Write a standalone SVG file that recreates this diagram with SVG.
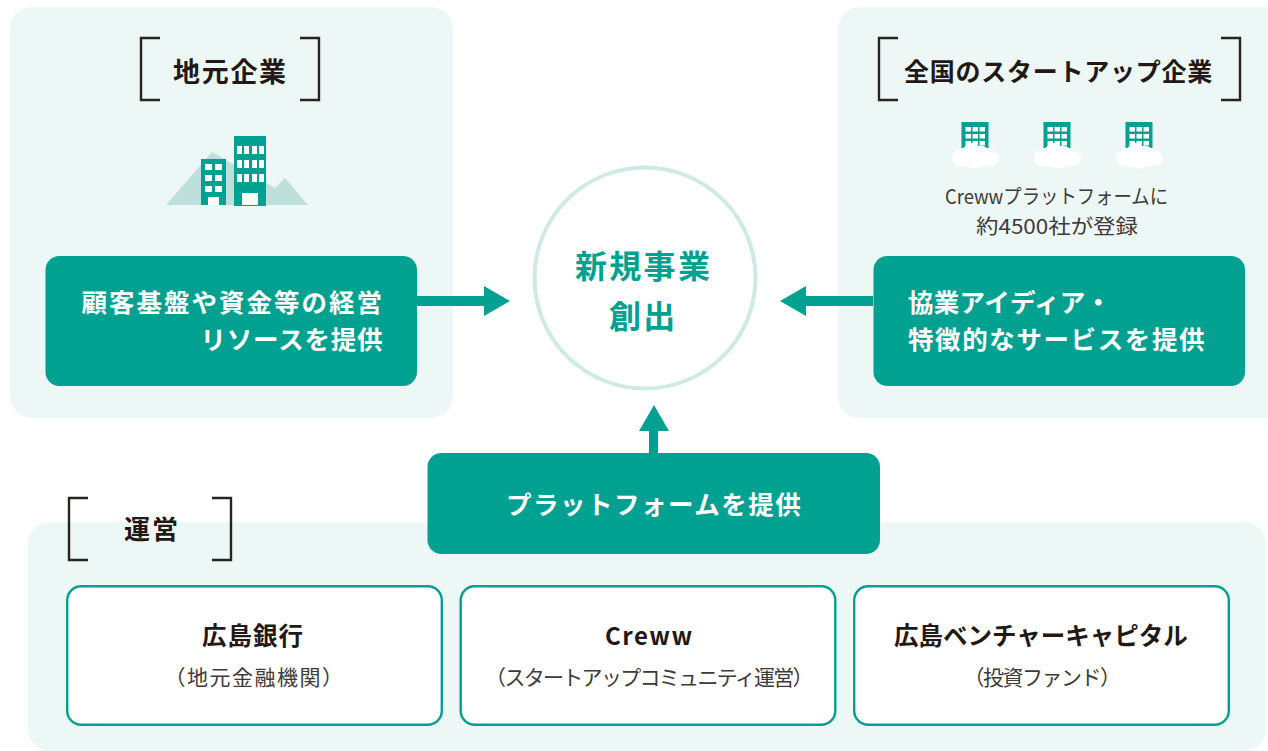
<svg xmlns="http://www.w3.org/2000/svg" width="1268" height="751" viewBox="0 0 1268 751">
<style>
.p{fill:#edf7f5}
.g{fill:#00a190}
.b{fill:none;stroke:#2b2220;stroke-width:2.4}
text{font-family:"Noto Sans CJK JP","Noto Sans",sans-serif}
.h{font-weight:700;font-size:27px;fill:#231815}
.w{font-weight:700;font-size:25.500px;fill:#fff}
.n{font-weight:700;font-size:24.500px;fill:#231815}
.s{font-size:21px;fill:#3e3a39}
.card{fill:#fff;stroke:#00a190;stroke-width:2.4}
.win{fill:#fff}
.cl{fill:#fff}
</style>
<defs>
<g id="tiny"><rect x="0" y="0" width="27" height="26" class="g"/>
<g class="win">
<rect x="4" y="5" width="5.500" height="4.500"/><rect x="11" y="5" width="5.500" height="4.500"/><rect x="18" y="5" width="5.500" height="4.500"/>
<rect x="4" y="12" width="5.500" height="4.500"/><rect x="11" y="12" width="5.500" height="4.500"/><rect x="18" y="12" width="5.500" height="4.500"/>
<rect x="4" y="19" width="5.500" height="4.500"/><rect x="11" y="19" width="5.500" height="4.500"/><rect x="18" y="19" width="5.500" height="4.500"/>
</g>
<g class="cl">
<circle cx="10" cy="29" r="8"/><circle cx="-1" cy="36" r="8.500"/><circle cx="14" cy="37" r="9.500"/><circle cx="30" cy="36.500" r="7.500"/><circle cx="5" cy="34" r="9"/><circle cx="19" cy="33" r="9.500"/><ellipse cx="14" cy="37" rx="19" ry="8.500"/>
</g>
</g>
</defs>
<rect width="1268" height="751" fill="#fff"/>
<g id="panel-local">
<rect x="10" y="7" width="443" height="411" rx="22" class="p"/>
<path class="b" d="M160 38H141V100H160M300 38H319V100H300"/>
<text x="173" y="82" class="h" letter-spacing="1.700">地元企業</text>
<path d="M166 205L212 152L275 188L285 178L308 205Z" fill="#bde0da"/>
<g id="icon-buildings">
<rect x="201" y="159" width="25" height="46" class="g"/>
<rect x="234" y="136" width="32" height="70" class="g"/>
<g class="win">
<rect x="205" y="164" width="7" height="6"/><rect x="215" y="164" width="7" height="6"/>
<rect x="205" y="175" width="7" height="6"/><rect x="215" y="175" width="7" height="6"/>
<rect x="205" y="186" width="7" height="6"/><rect x="215" y="186" width="7" height="6"/>
<rect x="208" y="197" width="11" height="8"/>
<rect x="237" y="146" width="5" height="8"/><rect x="244" y="146" width="5" height="8"/><rect x="252" y="146" width="5" height="8"/><rect x="259" y="146" width="5" height="8"/>
<rect x="237" y="160" width="5" height="8"/><rect x="244" y="160" width="5" height="8"/><rect x="252" y="160" width="5" height="8"/><rect x="259" y="160" width="5" height="8"/>
<rect x="237" y="174" width="5" height="8"/><rect x="244" y="174" width="5" height="8"/><rect x="252" y="174" width="5" height="8"/><rect x="259" y="174" width="5" height="8"/>
<rect x="242" y="193" width="16" height="12"/>
</g>
</g>
<rect x="45.500" y="256" width="371.500" height="130" rx="14" class="g"/>
<text x="81.500" y="312" class="w" letter-spacing="2">顧客基盤や資金等の経営</text>
<text x="200.500" y="349" class="w" letter-spacing="0.800">リソースを提供</text>
</g>
<g id="panel-startup">
<path d="M1268 7H860a22 22 0 0 0-22 22V396a22 22 0 0 0 22 22H1268Z" class="p"/>
<path class="b" d="M898 38H879V100H898M1221 38H1240V100H1221"/>
<text x="904" y="81" class="h" style="font-size:25px" letter-spacing="0.750">全国のスタートアップ企業</text>
<use href="#tiny" x="961.500" y="122"/>
<use href="#tiny" x="1043.500" y="122"/>
<use href="#tiny" x="1125.500" y="122"/>
<text x="945" y="204" class="s" style="font-size:20px" textLength="223" lengthAdjust="spacingAndGlyphs">Crewwプラットフォームに</text>
<text x="976" y="234" class="s" style="font-size:20px" textLength="162" lengthAdjust="spacingAndGlyphs">約4500社が登録</text>
<rect x="873.500" y="256" width="371.500" height="130" rx="14" class="g"/>
<text x="908" y="312" class="w" letter-spacing="0.300">協業アイディア・</text>
<text x="908" y="349" class="w" letter-spacing="1.600">特徴的なサービスを提供</text>
</g>
<g id="panel-operation">
<rect x="28" y="522" width="1238" height="229" rx="22" class="p"/>
<path class="b" d="M88 498H69V560H88M212 498H231V560H212"/>
<text x="124" y="539" class="h" style="font-size:26px" letter-spacing="2">運営</text>
</g>
<g id="center">
<circle cx="645" cy="278" r="110.500" fill="#fff" stroke="#cfe9e5" stroke-width="4"/>
<text x="575" y="278" font-size="32" font-weight="700" fill="#00a190" letter-spacing="2.300">新規事業</text>
<text x="609" y="328" font-size="32" font-weight="700" fill="#00a190" letter-spacing="2.300">創出</text>
</g>
<g id="connectors">
<path class="g" d="M417 296H484V286L510 301L484 316V306H417Z"/>
<path class="g" d="M873 296H806V286L780 301L806 316V306H873Z"/>
<path class="g" d="M649 453V431H639L654 405L669 431H658V453Z"/>
</g>
<g id="platform">
<rect x="427.500" y="453" width="452.500" height="101" rx="14" class="g"/>
<text x="506" y="514" class="w" letter-spacing="1.500">プラットフォームを提供</text>
</g>
<g id="card-bank">
<rect x="67.200" y="586.200" width="374.600" height="138.600" rx="14" class="card"/>
<text x="202" y="645" class="n" letter-spacing="1">広島銀行</text>
<text x="254.500" y="685" class="s" text-anchor="middle" letter-spacing="1.500">（地元金融機関）</text>
</g>
<g id="card-creww">
<rect x="460.700" y="586.200" width="374.600" height="138.600" rx="14" class="card"/>
<text x="605" y="645" class="n" style="font-size:24px" letter-spacing="1.500">Creww</text>
<text x="648.500" y="685" class="s" text-anchor="middle" letter-spacing="-1.700">（スタートアップコミュニティ運営）</text>
</g>
<g id="card-vc">
<rect x="854.200" y="586.200" width="374.600" height="138.600" rx="14" class="card"/>
<text x="894" y="645" class="n" letter-spacing="0">広島ベンチャーキャピタル</text>
<text x="1041.500" y="685" class="s" text-anchor="middle" letter-spacing="-1.500">（投資ファンド）</text>
</g>
</svg>
